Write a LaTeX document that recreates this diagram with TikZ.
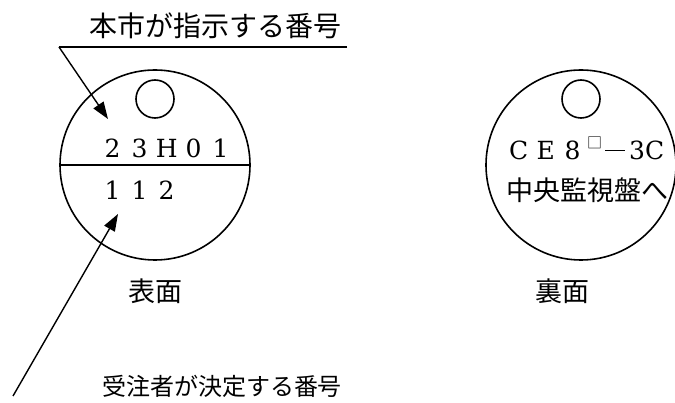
\documentclass[tikz,border=0pt]{standalone}
\usepackage{fontspec}
\newfontfamily\cjk{Noto Sans CJK JP}
\newfontfamily\lat{DejaVu Serif}
\usetikzlibrary{arrows.meta, calc}
\newcommand{\fw}[1]{\makebox[27pt]{#1}}

\begin{document}
\begin{tikzpicture}[x=1pt,y=-1pt,
    tag/.style={draw, circle, line width=1.6pt, minimum size=190pt, inner sep=0pt},
    hole/.style={draw, circle, line width=1.6pt, minimum size=38pt, inner sep=0pt},
    big/.style={font=\fontsize{27}{30}\selectfont, inner sep=0pt},
    latin/.style={font=\lat\fontsize{25}{28}\selectfont, inner sep=0pt},
    small/.style={font=\fontsize{24}{28}\selectfont, inner sep=0pt},
    leader/.style={line width=1.4pt, -{Triangle[length=17pt,width=12pt]}}]
  \useasboundingbox (0,0) rectangle (675,403);
  \clip (0,0) rectangle (675,403);
  % 表面と裏面の札
  \foreach \cx/\name/\capx/\cap in {155/front/155/表面, 581/back/562/裏面}
    {
     \node[tag] (\name) at (\cx,165) {};
     \node[hole] (\name hole) at (\cx,99) {};
     \node[big] (\name cap) at (\capx,291) {\cjk \cap};
    }
  \draw[line width=1.6pt] (front.west) -- (front.east); % 仕切り線
  % 表面の文字
  \node[latin, anchor=west] (num top) at (99,148) {\fw{2}\fw{3}\fw{H}\fw{0}\fw{1}};
  \node[latin, anchor=west] (num low) at (99,190) {\fw{1}\fw{1}\fw{2}};
  % 裏面の文字
  \node[latin, anchor=west] (code) at (505,148)
       {\fw{C}\fw{E}\fw{8}\hspace{1pt}\raisebox{11pt}{\fontsize{15}{15}\selectfont\cjk □}\hspace{3pt}\rule[8pt]{20pt}{1.3pt}\hspace{4pt}3C};
  \node[big, anchor=west] (dest) at (506,190) {\cjk 中央監視盤へ};
  % 引出し線
  \node[big, font=\fontsize{28}{30}\selectfont] (city lbl) at (215,26) {\cjk 本市が指示する番号};
  \coordinate (city end) at (347,47);
  \coordinate (city bend) at (59,47);
  \coordinate (city tip) at (108,119);
  \draw[line width=1.4pt] (city end) -- (city bend);
  \draw[leader] (city bend) -- (city tip);
  \node[small] (maker lbl) at (222,386) {\cjk 受注者が決定する番号};
  \coordinate (maker start) at (13,396);
  \coordinate (maker tip) at (118,214);
  \draw[leader] (maker start) -- (maker tip);
\end{tikzpicture}
\end{document}
